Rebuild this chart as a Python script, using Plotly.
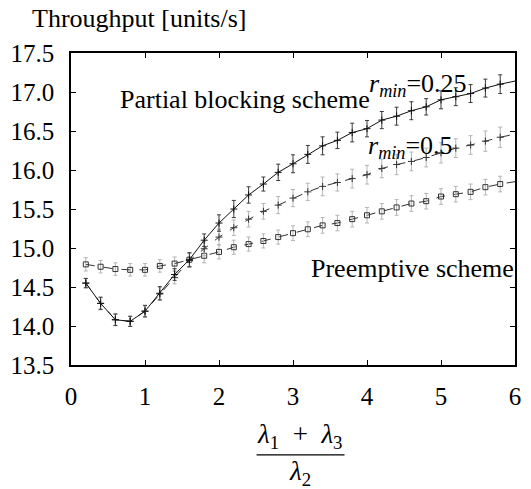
import plotly.graph_objects as go

# ---- data ----
load_ratio = [0.2, 0.4, 0.6, 0.8, 1.0, 1.2, 1.4, 1.6, 1.8, 2.0,
              2.2, 2.4, 2.6, 2.8, 3.0, 3.2, 3.4, 3.6, 3.8, 4.0,
              4.2, 4.4, 4.6, 4.8, 5.0, 5.2, 5.4, 5.6, 5.8, 6.0]

partial_r025 = [14.55, 14.29, 14.08, 14.06, 14.19, 14.42, 14.66, 14.85, 15.10, 15.32,
                15.50, 15.68, 15.82, 15.97, 16.08, 16.20, 16.31, 16.38, 16.48, 16.53,
                16.64, 16.69, 16.76, 16.81, 16.90, 16.94, 16.98, 17.05, 17.10, 17.14]
partial_r05 = [14.55, 14.29, 14.08, 14.06, 14.19, 14.41, 14.62, 14.84, 14.99, 15.14,
               15.26, 15.37, 15.47, 15.55, 15.64, 15.72, 15.79, 15.84, 15.89, 15.94,
               16.02, 16.07, 16.11, 16.16, 16.22, 16.28, 16.32, 16.37, 16.42, 16.46]
preemptive = [14.79, 14.76, 14.73, 14.72, 14.72, 14.77, 14.80, 14.85, 14.90, 14.95,
              15.01, 15.05, 15.09, 15.14, 15.19, 15.24, 15.29, 15.32, 15.37, 15.42,
              15.47, 15.52, 15.57, 15.60, 15.66, 15.69, 15.72, 15.78, 15.82, 15.85]

err_r025 = [0.06, 0.08, 0.075, 0.065, 0.075, 0.085, 0.075, 0.09, 0.08, 0.105,
            0.11, 0.105, 0.09, 0.105, 0.115, 0.115, 0.115, 0.105, 0.12, 0.105,
            0.11, 0.115, 0.115, 0.105, 0.115, 0.115, 0.115, 0.115, 0.12]
err_r05 = [0.06, 0.07, 0.07, 0.065, 0.07, 0.08, 0.08, 0.09, 0.09, 0.10,
           0.10, 0.10, 0.10, 0.11, 0.11, 0.11, 0.12, 0.11, 0.12, 0.12,
           0.12, 0.13, 0.12, 0.12, 0.13, 0.12, 0.12, 0.13, 0.13]
err_pre = [0.085, 0.08, 0.08, 0.08, 0.08, 0.08, 0.085, 0.085, 0.09, 0.09,
           0.09, 0.09, 0.09, 0.09, 0.095, 0.095, 0.10, 0.10, 0.10, 0.10,
           0.10, 0.10, 0.10, 0.10, 0.10, 0.10, 0.10, 0.10, 0.10]

y_ticks = [13.5, 14.0, 14.5, 15.0, 15.5, 16.0, 16.5, 17.0, 17.5]
x_ticks = [0, 1, 2, 3, 4, 5, 6]

FONT = "Liberation Serif"

fig = go.Figure()

series = [
    (preemptive, err_pre, "dash", "square-open", 5, "#b4b4b4", "#333333"),
    (partial_r05, err_r05, "dash", "cross-thin-open", 5, "#b4b4b4", "#333333"),
    (partial_r025, err_r025, "solid", "cross-thin-open", 5, "#3a3a3a", "#111111"),
]
n = len(load_ratio) - 1
for ys, errs, dash, sym, msize, ecol, lcol in series:
    fig.add_trace(go.Scatter(
        x=load_ratio, y=ys, mode="lines",
        line=dict(color=lcol, width=1, dash=dash),
        showlegend=False, hoverinfo="skip"))
    fig.add_trace(go.Scatter(
        x=load_ratio[:n], y=ys[:n], mode="markers",
        marker=dict(symbol=sym, size=msize, color=lcol, line=dict(color=lcol, width=1)),
        error_y=dict(type="data", array=errs, visible=True, color=ecol,
                     thickness=1, width=2),
        showlegend=False))

axis_common = dict(
    showline=True, linecolor="black", linewidth=1.5, mirror="ticks",
    ticks="inside", ticklen=5, tickwidth=1, tickcolor="black",
    showgrid=False, zeroline=False,
    tickfont=dict(family=FONT, size=25, color="black"),
)

fig.update_xaxes(range=[0, 6], tickvals=x_ticks, ticklabelstandoff=8, **axis_common)
fig.update_yaxes(range=[13.5, 17.5], tickvals=y_ticks, tickformat=".1f",
                 ticklabelstandoff=10, **axis_common)

ann_font = dict(family=FONT, size=26, color="black")
frac_font = dict(family=FONT, size=27, color="black")
annotations = [
    dict(text="Throughput [units/s]", xref="paper", yref="paper", x=-0.093, y=1.109,
         xanchor="left", yanchor="middle", showarrow=False, font=ann_font),
    dict(text="Partial blocking scheme", xref="x", yref="y", x=0.63, y=16.91,
         xanchor="left", yanchor="middle", showarrow=False, font=ann_font),
    dict(text="<i>r</i><sub><i>min</i></sub>=0.25", xref="x", yref="y", x=4.0, y=17.09,
         xanchor="left", yanchor="middle", showarrow=False, font=ann_font),
    dict(text="<i>r</i><sub><i>min</i></sub>=0.5", xref="x", yref="y", x=3.98, y=16.29,
         xanchor="left", yanchor="middle", showarrow=False, font=ann_font),
    dict(text="Preemptive scheme", xref="x", yref="y", x=3.21, y=14.74,
         xanchor="left", yanchor="middle", showarrow=False, font=ann_font),
    dict(text="<i>λ</i><sub>1</sub>\u2002+\u2002<i>λ</i><sub>3</sub>", xref="paper", yref="paper",
         x=0.516, y=-0.228, xanchor="center", yanchor="middle", showarrow=False,
         font=frac_font),
    dict(text="<i>λ</i><sub>2</sub>", xref="paper", yref="paper", x=0.516, y=-0.347,
         xanchor="center", yanchor="middle", showarrow=False, font=frac_font),
]

fig.update_layout(
    width=531, height=489,
    margin=dict(l=67, r=10, t=53, b=124),
    paper_bgcolor="white", plot_bgcolor="white",
    font=dict(family=FONT),
    annotations=annotations,
    shapes=[dict(type="line", xref="paper", yref="paper", x0=0.418, x1=0.616,
                 y0=-0.288, y1=-0.288, line=dict(color="black", width=1.2))],
)

fig.write_html("out.html")
